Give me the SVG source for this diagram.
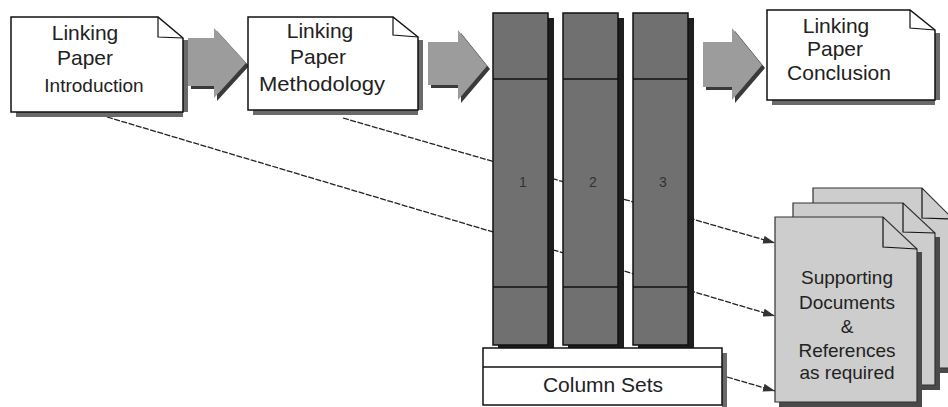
<svg xmlns="http://www.w3.org/2000/svg" width="948" height="407" viewBox="0 0 948 407">
<style>
.box{fill:#ffffff;stroke:#111;stroke-width:1.5}
.shadow{fill:#6a6a6a}
.fold{fill:none;stroke:#111;stroke-width:1.2}
.t{font-family:"Liberation Sans",Arial,sans-serif;font-size:21px;fill:#222;text-anchor:middle}
.dt{font-family:"Liberation Sans",Arial,sans-serif;font-size:19px;fill:#222;text-anchor:middle}
.col{fill:#707070;stroke:#111;stroke-width:1.5}
.colsh{fill:#1e1e1e}
.div{stroke:#111;stroke-width:1.5}
.num{font-family:"Liberation Sans",Arial,sans-serif;font-size:14px;fill:#333;text-anchor:middle}
.blk{fill:#9c9c9c}
.blksh{fill:#3a3a3a}
.doc{fill:#cdcdcd;stroke:#333;stroke-width:1.2}
.docsh{fill:#4a4a4a}
.conn{fill:none;stroke:#222;stroke-width:1.3;stroke-dasharray:6 1.5}
</style>
<defs>
<marker id="ah" markerWidth="12" markerHeight="8" refX="12" refY="4" orient="auto" markerUnits="userSpaceOnUse">
<path d="M0,0 L12,4 L0,8 z" fill="#333"/>
</marker>
</defs>
<rect width="948" height="407" fill="#ffffff"/>

<g id="connectors">
<line class="conn" x1="107" y1="117" x2="775" y2="316" marker-end="url(#ah)"/>
<line class="conn" x1="343" y1="118" x2="775" y2="243" marker-end="url(#ah)"/>
<line class="conn" x1="727" y1="377" x2="775" y2="391" marker-end="url(#ah)"/>
</g>

<g id="intro">
<path class="shadow" d="M16,112 L188,112 L188,40 L183,40 L183,117 L16,117 z"/>
<path class="box" d="M11,17 L158,17 L183,38 L183,112 L11,112 z"/>
<path class="fold" d="M158,17 L158,37 L183,38"/>
<text class="t" x="85" y="40">Linking</text>
<text class="t" x="85" y="65">Paper</text>
<text class="t" x="94" y="92" style="font-size:19px">Introduction</text>
</g>

<g id="arrow1">
<polygon class="blksh" points="191,41 217,41 217,31 249,66 217,101 217,89 191,89"/>
<polygon class="blk" points="188,38 214,38 214,28 246,63 214,98 214,86 188,86"/>
</g>

<g id="method">
<path class="shadow" d="M253,110 L423,110 L423,40 L418,40 L418,115 L253,115 z"/>
<path class="box" d="M248,17 L393,17 L418,37 L418,110 L248,110 z"/>
<path class="fold" d="M393,17 L393,35 L418,37"/>
<text class="t" x="320" y="38">Linking</text>
<text class="t" x="318" y="64">Paper</text>
<text class="t" x="322" y="91" textLength="126" lengthAdjust="spacingAndGlyphs">Methodology</text>
</g>

<g id="arrow2">
<polygon class="blksh" points="431,45 461,45 461,33 490,69 461,103 461,88 431,88"/>
<polygon class="blk" points="428,42 458,42 458,30 487,66 458,100 458,85 428,85"/>
</g>

<g id="columns">
<g id="col1">
<rect class="colsh" x="548" y="18" width="6" height="331"/>
<rect class="colsh" x="498" y="345" width="56" height="4"/>
<rect class="col" x="493" y="13" width="55" height="332"/>
<line class="div" x1="493" y1="79" x2="548" y2="79"/>
<line class="div" x1="493" y1="287" x2="548" y2="287"/>
<text class="num" x="523" y="187">1</text>
</g>
<g id="col2">
<rect class="colsh" x="618" y="18" width="6" height="331"/>
<rect class="colsh" x="568" y="345" width="56" height="4"/>
<rect class="col" x="563" y="13" width="55" height="332"/>
<line class="div" x1="563" y1="79" x2="618" y2="79"/>
<line class="div" x1="563" y1="287" x2="618" y2="287"/>
<text class="num" x="593" y="187">2</text>
</g>
<g id="col3">
<rect class="colsh" x="688" y="18" width="6" height="331"/>
<rect class="colsh" x="638" y="345" width="56" height="4"/>
<rect class="col" x="633" y="13" width="55" height="332"/>
<line class="div" x1="633" y1="79" x2="688" y2="79"/>
<line class="div" x1="633" y1="287" x2="688" y2="287"/>
<text class="num" x="663" y="187">3</text>
</g>
</g>

<g id="arrow3">
<polygon class="blksh" points="706,45 735,45 735,31 765,68 735,103 735,90 706,90"/>
<polygon class="blk" points="703,42 732,42 732,28 762,65 732,100 732,87 703,87"/>
</g>

<g id="conclusion">
<path class="shadow" d="M772,100 L940,100 L940,33 L935,33 L935,105 L772,105 z"/>
<path class="box" d="M767,10 L910,10 L935,30 L935,100 L767,100 z"/>
<path class="fold" d="M910,10 L910,28 L935,30"/>
<text class="t" x="836" y="33">Linking</text>
<text class="t" x="835" y="56">Paper</text>
<text class="t" x="839" y="80">Conclusion</text>
</g>

<g id="columnsets">
<rect class="shadow" x="722" y="353" width="5" height="54"/>
<rect class="box" x="483" y="348" width="239" height="57"/>
<line class="div" x1="483" y1="367" x2="722" y2="367"/>
<text class="t" x="603" y="392">Column Sets</text>
</g>

<g id="supporting">
<path class="docsh" d="M817,368 L956,368 L956,373 L817,373 z"/>
<path class="doc" d="M813,188 L922,188 L953,219 L953,368 L813,368 z"/>
<path class="fold" d="M922,188 L922,218 L953,219"/>
<path class="docsh" d="M935,237 L940,237 L940,390 L797,390 L797,385 L935,385 z"/>
<path class="doc" d="M793,203 L903,203 L935,233 L935,385 L793,385 z"/>
<path class="fold" d="M903,203 L903,232 L935,233"/>
<path class="docsh" d="M917,252 L922,252 L922,407 L779,407 L779,402 L917,402 z"/>
<path class="doc" d="M775,217 L883,217 L917,249 L917,402 L775,402 z"/>
<path class="fold" d="M883,217 L883,247 L917,249"/>
<text class="dt" x="847" y="284">Supporting</text>
<text class="dt" x="847" y="309">Documents</text>
<text class="dt" x="847" y="333">&amp;</text>
<text class="dt" x="847" y="357">References</text>
<text class="dt" x="847" y="379">as required</text>
</g>
</svg>
